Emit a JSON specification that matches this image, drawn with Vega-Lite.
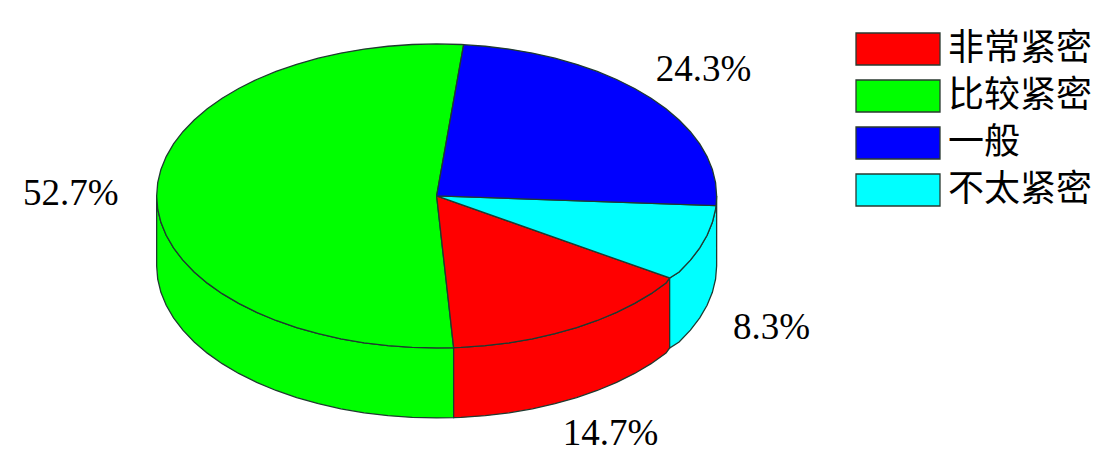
{"$schema":"https://vega.github.io/schema/vega-lite/v6.json","width":1097,"height":453,"padding":0,"autosize":{"type":"none"},"background":"white","config":{"view":{"stroke":null}},
"datasets":{"shares":[{"slice":"非常紧密","label":"14.7%","share":14.7,"x":0.6214,"y":-1.5658},{"slice":"比较紧密","label":"52.7%","share":52.7,"x":-1.3071,"y":0.0132},{"slice":"一般","label":"24.3%","share":24.3,"x":0.9536,"y":0.8289},{"slice":"不太紧密","label":"8.3%","share":8.3,"x":1.1964,"y":-0.8684}],
"outline":[
{"part":"wall-green","slice":"比较紧密","i":1,"x":-1,"y":0},{"part":"wall-green","slice":"比较紧密","i":2,"x":-0.9962,"y":-0.0872},{"part":"wall-green","slice":"比较紧密","i":3,"x":-0.9848,"y":-0.1736},{"part":"wall-green","slice":"比较紧密","i":4,"x":-0.9659,"y":-0.2588},{"part":"wall-green","slice":"比较紧密","i":5,"x":-0.9397,"y":-0.342},{"part":"wall-green","slice":"比较紧密","i":6,"x":-0.9063,"y":-0.4226},{"part":"wall-green","slice":"比较紧密","i":7,"x":-0.866,"y":-0.5},{"part":"wall-green","slice":"比较紧密","i":8,"x":-0.8192,"y":-0.5736},{"part":"wall-green","slice":"比较紧密","i":9,"x":-0.766,"y":-0.6428},{"part":"wall-green","slice":"比较紧密","i":10,"x":-0.7071,"y":-0.7071},{"part":"wall-green","slice":"比较紧密","i":11,"x":-0.6428,"y":-0.766},{"part":"wall-green","slice":"比较紧密","i":12,"x":-0.5736,"y":-0.8192},{"part":"wall-green","slice":"比较紧密","i":13,"x":-0.5,"y":-0.866},{"part":"wall-green","slice":"比较紧密","i":14,"x":-0.4226,"y":-0.9063},{"part":"wall-green","slice":"比较紧密","i":15,"x":-0.342,"y":-0.9397},{"part":"wall-green","slice":"比较紧密","i":16,"x":-0.2588,"y":-0.9659},{"part":"wall-green","slice":"比较紧密","i":17,"x":-0.1736,"y":-0.9848},{"part":"wall-green","slice":"比较紧密","i":18,"x":-0.0872,"y":-0.9962},{"part":"wall-green","slice":"比较紧密","i":19,"x":0,"y":-1},{"part":"wall-green","slice":"比较紧密","i":20,"x":0.0607,"y":-0.9982},{"part":"wall-green","slice":"比较紧密","i":21,"x":0.0607,"y":-1.4587},{"part":"wall-green","slice":"比较紧密","i":22,"x":0,"y":-1.4605},{"part":"wall-green","slice":"比较紧密","i":23,"x":-0.0872,"y":-1.4567},{"part":"wall-green","slice":"比较紧密","i":24,"x":-0.1736,"y":-1.4453},{"part":"wall-green","slice":"比较紧密","i":25,"x":-0.2588,"y":-1.4264},{"part":"wall-green","slice":"比较紧密","i":26,"x":-0.342,"y":-1.4002},{"part":"wall-green","slice":"比较紧密","i":27,"x":-0.4226,"y":-1.3668},{"part":"wall-green","slice":"比较紧密","i":28,"x":-0.5,"y":-1.3265},{"part":"wall-green","slice":"比较紧密","i":29,"x":-0.5736,"y":-1.2797},{"part":"wall-green","slice":"比较紧密","i":30,"x":-0.6428,"y":-1.2265},{"part":"wall-green","slice":"比较紧密","i":31,"x":-0.7071,"y":-1.1676},{"part":"wall-green","slice":"比较紧密","i":32,"x":-0.766,"y":-1.1033},{"part":"wall-green","slice":"比较紧密","i":33,"x":-0.8192,"y":-1.0341},{"part":"wall-green","slice":"比较紧密","i":34,"x":-0.866,"y":-0.9605},{"part":"wall-green","slice":"比较紧密","i":35,"x":-0.9063,"y":-0.8831},{"part":"wall-green","slice":"比较紧密","i":36,"x":-0.9397,"y":-0.8025},{"part":"wall-green","slice":"比较紧密","i":37,"x":-0.9659,"y":-0.7193},{"part":"wall-green","slice":"比较紧密","i":38,"x":-0.9848,"y":-0.6341},{"part":"wall-green","slice":"比较紧密","i":39,"x":-0.9962,"y":-0.5477},{"part":"wall-green","slice":"比较紧密","i":40,"x":-1,"y":-0.4605},{"part":"wall-green","slice":"比较紧密","i":41,"x":-1,"y":0},
{"part":"wall-red","slice":"非常紧密","i":1,"x":0.0607,"y":-0.9982},{"part":"wall-red","slice":"非常紧密","i":2,"x":0.0872,"y":-0.9962},{"part":"wall-red","slice":"非常紧密","i":3,"x":0.1736,"y":-0.9848},{"part":"wall-red","slice":"非常紧密","i":4,"x":0.2588,"y":-0.9659},{"part":"wall-red","slice":"非常紧密","i":5,"x":0.342,"y":-0.9397},{"part":"wall-red","slice":"非常紧密","i":6,"x":0.4226,"y":-0.9063},{"part":"wall-red","slice":"非常紧密","i":7,"x":0.5,"y":-0.866},{"part":"wall-red","slice":"非常紧密","i":8,"x":0.5736,"y":-0.8192},{"part":"wall-red","slice":"非常紧密","i":9,"x":0.6428,"y":-0.766},{"part":"wall-red","slice":"非常紧密","i":10,"x":0.7071,"y":-0.7071},{"part":"wall-red","slice":"非常紧密","i":11,"x":0.766,"y":-0.6428},{"part":"wall-red","slice":"非常紧密","i":12,"x":0.8192,"y":-0.5736},{"part":"wall-red","slice":"非常紧密","i":13,"x":0.8322,"y":-0.5395},{"part":"wall-red","slice":"非常紧密","i":14,"x":0.8322,"y":-1},{"part":"wall-red","slice":"非常紧密","i":15,"x":0.8192,"y":-1.0341},{"part":"wall-red","slice":"非常紧密","i":16,"x":0.766,"y":-1.1033},{"part":"wall-red","slice":"非常紧密","i":17,"x":0.7071,"y":-1.1676},{"part":"wall-red","slice":"非常紧密","i":18,"x":0.6428,"y":-1.2265},{"part":"wall-red","slice":"非常紧密","i":19,"x":0.5736,"y":-1.2797},{"part":"wall-red","slice":"非常紧密","i":20,"x":0.5,"y":-1.3265},{"part":"wall-red","slice":"非常紧密","i":21,"x":0.4226,"y":-1.3668},{"part":"wall-red","slice":"非常紧密","i":22,"x":0.342,"y":-1.4002},{"part":"wall-red","slice":"非常紧密","i":23,"x":0.2588,"y":-1.4264},{"part":"wall-red","slice":"非常紧密","i":24,"x":0.1736,"y":-1.4453},{"part":"wall-red","slice":"非常紧密","i":25,"x":0.0872,"y":-1.4567},{"part":"wall-red","slice":"非常紧密","i":26,"x":0.0607,"y":-1.4587},{"part":"wall-red","slice":"非常紧密","i":27,"x":0.0607,"y":-0.9982},
{"part":"wall-cyan","slice":"不太紧密","i":1,"x":0.8322,"y":-0.5395},{"part":"wall-cyan","slice":"不太紧密","i":2,"x":0.866,"y":-0.5},{"part":"wall-cyan","slice":"不太紧密","i":3,"x":0.9063,"y":-0.4226},{"part":"wall-cyan","slice":"不太紧密","i":4,"x":0.9397,"y":-0.342},{"part":"wall-cyan","slice":"不太紧密","i":5,"x":0.9659,"y":-0.2588},{"part":"wall-cyan","slice":"不太紧密","i":6,"x":0.9848,"y":-0.1736},{"part":"wall-cyan","slice":"不太紧密","i":7,"x":0.9962,"y":-0.0872},{"part":"wall-cyan","slice":"不太紧密","i":8,"x":1,"y":0},{"part":"wall-cyan","slice":"不太紧密","i":9,"x":1,"y":-0.4605},{"part":"wall-cyan","slice":"不太紧密","i":10,"x":0.9962,"y":-0.5477},{"part":"wall-cyan","slice":"不太紧密","i":11,"x":0.9848,"y":-0.6341},{"part":"wall-cyan","slice":"不太紧密","i":12,"x":0.9659,"y":-0.7193},{"part":"wall-cyan","slice":"不太紧密","i":13,"x":0.9397,"y":-0.8025},{"part":"wall-cyan","slice":"不太紧密","i":14,"x":0.9063,"y":-0.8831},{"part":"wall-cyan","slice":"不太紧密","i":15,"x":0.866,"y":-0.9605},{"part":"wall-cyan","slice":"不太紧密","i":16,"x":0.8322,"y":-1},{"part":"wall-cyan","slice":"不太紧密","i":17,"x":0.8322,"y":-0.5395},
{"part":"top-green","slice":"比较紧密","i":1,"x":0,"y":0},{"part":"top-green","slice":"比较紧密","i":2,"x":0.0964,"y":0.9953},{"part":"top-green","slice":"比较紧密","i":3,"x":0.0872,"y":0.9962},{"part":"top-green","slice":"比较紧密","i":4,"x":0,"y":1},{"part":"top-green","slice":"比较紧密","i":5,"x":-0.0872,"y":0.9962},{"part":"top-green","slice":"比较紧密","i":6,"x":-0.1736,"y":0.9848},{"part":"top-green","slice":"比较紧密","i":7,"x":-0.2588,"y":0.9659},{"part":"top-green","slice":"比较紧密","i":8,"x":-0.342,"y":0.9397},{"part":"top-green","slice":"比较紧密","i":9,"x":-0.4226,"y":0.9063},{"part":"top-green","slice":"比较紧密","i":10,"x":-0.5,"y":0.866},{"part":"top-green","slice":"比较紧密","i":11,"x":-0.5736,"y":0.8192},{"part":"top-green","slice":"比较紧密","i":12,"x":-0.6428,"y":0.766},{"part":"top-green","slice":"比较紧密","i":13,"x":-0.7071,"y":0.7071},{"part":"top-green","slice":"比较紧密","i":14,"x":-0.766,"y":0.6428},{"part":"top-green","slice":"比较紧密","i":15,"x":-0.8192,"y":0.5736},{"part":"top-green","slice":"比较紧密","i":16,"x":-0.866,"y":0.5},{"part":"top-green","slice":"比较紧密","i":17,"x":-0.9063,"y":0.4226},{"part":"top-green","slice":"比较紧密","i":18,"x":-0.9397,"y":0.342},{"part":"top-green","slice":"比较紧密","i":19,"x":-0.9659,"y":0.2588},{"part":"top-green","slice":"比较紧密","i":20,"x":-0.9848,"y":0.1736},{"part":"top-green","slice":"比较紧密","i":21,"x":-0.9962,"y":0.0872},{"part":"top-green","slice":"比较紧密","i":22,"x":-1,"y":0},{"part":"top-green","slice":"比较紧密","i":23,"x":-0.9962,"y":-0.0872},{"part":"top-green","slice":"比较紧密","i":24,"x":-0.9848,"y":-0.1736},{"part":"top-green","slice":"比较紧密","i":25,"x":-0.9659,"y":-0.2588},{"part":"top-green","slice":"比较紧密","i":26,"x":-0.9397,"y":-0.342},{"part":"top-green","slice":"比较紧密","i":27,"x":-0.9063,"y":-0.4226},{"part":"top-green","slice":"比较紧密","i":28,"x":-0.866,"y":-0.5},{"part":"top-green","slice":"比较紧密","i":29,"x":-0.8192,"y":-0.5736},{"part":"top-green","slice":"比较紧密","i":30,"x":-0.766,"y":-0.6428},{"part":"top-green","slice":"比较紧密","i":31,"x":-0.7071,"y":-0.7071},{"part":"top-green","slice":"比较紧密","i":32,"x":-0.6428,"y":-0.766},{"part":"top-green","slice":"比较紧密","i":33,"x":-0.5736,"y":-0.8192},{"part":"top-green","slice":"比较紧密","i":34,"x":-0.5,"y":-0.866},{"part":"top-green","slice":"比较紧密","i":35,"x":-0.4226,"y":-0.9063},{"part":"top-green","slice":"比较紧密","i":36,"x":-0.342,"y":-0.9397},{"part":"top-green","slice":"比较紧密","i":37,"x":-0.2588,"y":-0.9659},{"part":"top-green","slice":"比较紧密","i":38,"x":-0.1736,"y":-0.9848},{"part":"top-green","slice":"比较紧密","i":39,"x":-0.0872,"y":-0.9962},{"part":"top-green","slice":"比较紧密","i":40,"x":0,"y":-1},{"part":"top-green","slice":"比较紧密","i":41,"x":0.0607,"y":-0.9982},{"part":"top-green","slice":"比较紧密","i":42,"x":0,"y":0},
{"part":"top-red","slice":"非常紧密","i":1,"x":0,"y":0},{"part":"top-red","slice":"非常紧密","i":2,"x":0.0607,"y":-0.9982},{"part":"top-red","slice":"非常紧密","i":3,"x":0.0872,"y":-0.9962},{"part":"top-red","slice":"非常紧密","i":4,"x":0.1736,"y":-0.9848},{"part":"top-red","slice":"非常紧密","i":5,"x":0.2588,"y":-0.9659},{"part":"top-red","slice":"非常紧密","i":6,"x":0.342,"y":-0.9397},{"part":"top-red","slice":"非常紧密","i":7,"x":0.4226,"y":-0.9063},{"part":"top-red","slice":"非常紧密","i":8,"x":0.5,"y":-0.866},{"part":"top-red","slice":"非常紧密","i":9,"x":0.5736,"y":-0.8192},{"part":"top-red","slice":"非常紧密","i":10,"x":0.6428,"y":-0.766},{"part":"top-red","slice":"非常紧密","i":11,"x":0.7071,"y":-0.7071},{"part":"top-red","slice":"非常紧密","i":12,"x":0.766,"y":-0.6428},{"part":"top-red","slice":"非常紧密","i":13,"x":0.8192,"y":-0.5736},{"part":"top-red","slice":"非常紧密","i":14,"x":0.8322,"y":-0.5395},{"part":"top-red","slice":"非常紧密","i":15,"x":0,"y":0},
{"part":"top-cyan","slice":"不太紧密","i":1,"x":0,"y":0},{"part":"top-cyan","slice":"不太紧密","i":2,"x":0.8322,"y":-0.5395},{"part":"top-cyan","slice":"不太紧密","i":3,"x":0.866,"y":-0.5},{"part":"top-cyan","slice":"不太紧密","i":4,"x":0.9063,"y":-0.4226},{"part":"top-cyan","slice":"不太紧密","i":5,"x":0.9397,"y":-0.342},{"part":"top-cyan","slice":"不太紧密","i":6,"x":0.9659,"y":-0.2588},{"part":"top-cyan","slice":"不太紧密","i":7,"x":0.9848,"y":-0.1736},{"part":"top-cyan","slice":"不太紧密","i":8,"x":0.9962,"y":-0.0872},{"part":"top-cyan","slice":"不太紧密","i":9,"x":0.998,"y":-0.0632},{"part":"top-cyan","slice":"不太紧密","i":10,"x":0,"y":0},
{"part":"top-blue","slice":"一般","i":1,"x":0,"y":0},{"part":"top-blue","slice":"一般","i":2,"x":0.998,"y":-0.0632},{"part":"top-blue","slice":"一般","i":3,"x":1,"y":0},{"part":"top-blue","slice":"一般","i":4,"x":0.9962,"y":0.0872},{"part":"top-blue","slice":"一般","i":5,"x":0.9848,"y":0.1736},{"part":"top-blue","slice":"一般","i":6,"x":0.9659,"y":0.2588},{"part":"top-blue","slice":"一般","i":7,"x":0.9397,"y":0.342},{"part":"top-blue","slice":"一般","i":8,"x":0.9063,"y":0.4226},{"part":"top-blue","slice":"一般","i":9,"x":0.866,"y":0.5},{"part":"top-blue","slice":"一般","i":10,"x":0.8192,"y":0.5736},{"part":"top-blue","slice":"一般","i":11,"x":0.766,"y":0.6428},{"part":"top-blue","slice":"一般","i":12,"x":0.7071,"y":0.7071},{"part":"top-blue","slice":"一般","i":13,"x":0.6428,"y":0.766},{"part":"top-blue","slice":"一般","i":14,"x":0.5736,"y":0.8192},{"part":"top-blue","slice":"一般","i":15,"x":0.5,"y":0.866},{"part":"top-blue","slice":"一般","i":16,"x":0.4226,"y":0.9063},{"part":"top-blue","slice":"一般","i":17,"x":0.342,"y":0.9397},{"part":"top-blue","slice":"一般","i":18,"x":0.2588,"y":0.9659},{"part":"top-blue","slice":"一般","i":19,"x":0.1736,"y":0.9848},{"part":"top-blue","slice":"一般","i":20,"x":0.0964,"y":0.9953},{"part":"top-blue","slice":"一般","i":21,"x":0,"y":0}
]},
"layer":[
{"data":{"name":"outline"},"mark":{"type":"line","filled":true,"stroke":"#1f3a30","strokeWidth":1.3,"interpolate":"linear"},
"encoding":{"x":{"field":"x","type":"quantitative","axis":null,"scale":{"domain":[-1.5595,2.3585],"nice":false,"zero":false}},"y":{"field":"y","type":"quantitative","axis":null,"scale":{"domain":[-1.691,1.289],"nice":false,"zero":false}},"detail":{"field":"part"},"order":{"field":"i","type":"quantitative"},
"color":{"field":"slice","type":"nominal","title":null,"scale":{"domain":["非常紧密","比较紧密","一般","不太紧密"],"range":["#ff0000","#00ff00","#0000ff","#00ffff"]},
"legend":{"orient":"none","legendX":855,"legendY":26,"symbolType":"M-1,-0.381H1V0.381H-1Z","symbolSize":7056,"clipHeight":46,"rowPadding":1,"labelFont":"Noto Sans CJK SC","labelFontSize":36,"labelColor":"#000000","labelOffset":7,"symbolStrokeColor":"#2a3a30","symbolStrokeWidth":1.3,"symbolOpacity":1}}}},
{"data":{"name":"shares"},"mark":{"type":"text","font":"Liberation Serif","fontSize":37,"color":"#000000","baseline":"middle","align":"center"},
"encoding":{"x":{"field":"x","type":"quantitative"},"y":{"field":"y","type":"quantitative"},"text":{"field":"label","type":"nominal"}}}
]}
